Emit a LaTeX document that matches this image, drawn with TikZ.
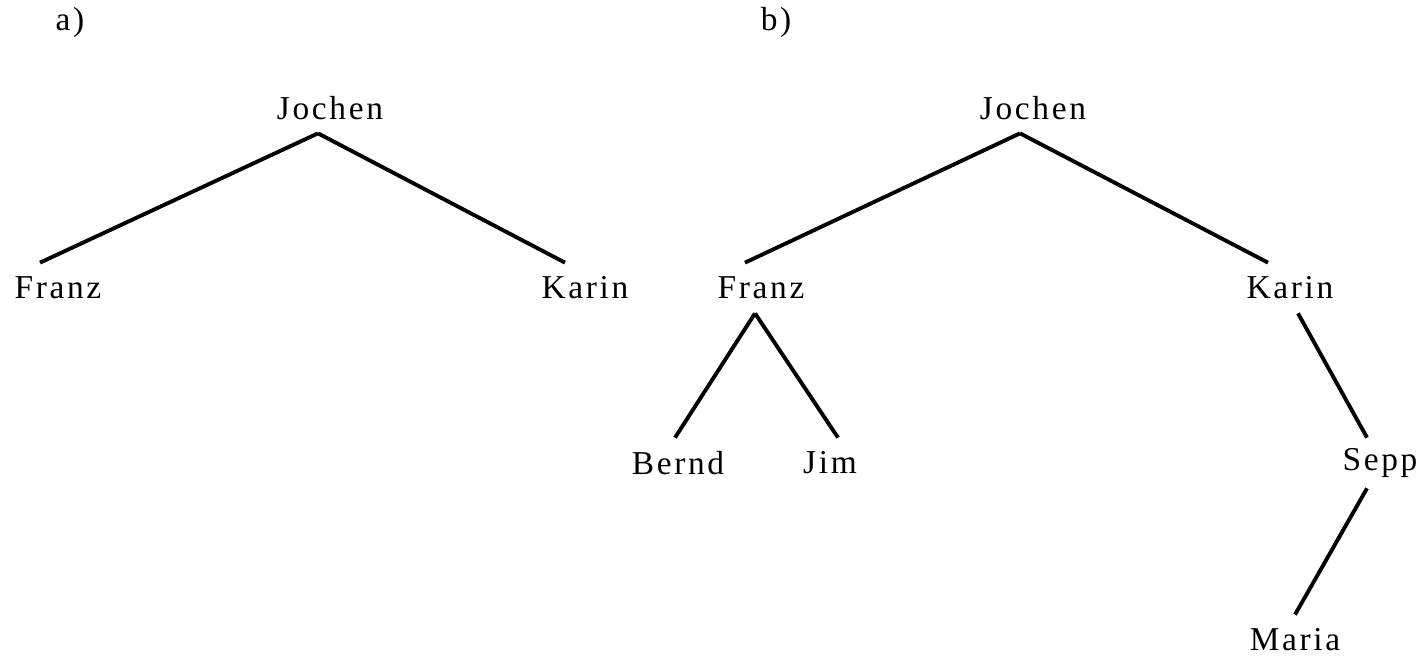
\documentclass[tikz,border=0pt]{standalone}
\usepackage{fontspec}
\setmainfont{Liberation Serif}[LetterSpace=8]
\usepackage{tikz}
\usetikzlibrary{positioning}
\tikzset{person/.style={inner sep=0pt, minimum height=1cm, font=\fontsize{19}{22}\selectfont}}
\tikzset{branch/.style={line width=2.2pt}}

\begin{document}
\begin{tikzpicture}
		\useasboundingbox (0,0) rectangle (28.52,13.22);
		\node[person] (la) at (1.40,12.78) {a)};
		\node[person] (lb) at (15.52,12.78) {b)};
		% tree a
		\node[person] (JA) at (6.60,11.06) {Jochen};
		\node[person] (FA) at (1.16,7.46) {Franz};
		\node[person] (KA) at (11.70,7.46) {Karin};
		% tree b
		\node[person] (JB) at (20.66,11.06) {Jochen};
		\node[person] (FB) at (15.22,7.46) {Franz};
		\node[person] (KB) at (25.80,7.46) {Karin};
		\node[person] (BE) at (13.56,3.96) {Bernd};
		\node[person] (JI) at (16.60,3.96) {Jim};
		\node[person] (SE) at (27.60,3.96) {Sepp};
		\node[person] (MA) at (25.90,0.42) {Maria};
		\draw[branch] ([xshift=-2.4mm]JA.south) -- ([xshift=-3.6mm]FA.north);
		\draw[branch] ([xshift=-2.4mm]JA.south) -- ([xshift=-4mm]KA.north);
		\draw[branch] ([xshift=-2.6mm]JB.south) -- ([xshift=-3.2mm]FB.north);
		\draw[branch] ([xshift=-2.6mm]JB.south) -- ([xshift=-4.4mm]KB.north);
		\draw[branch] ([xshift=-1.2mm]FB.south) -- ([xshift=-0.6mm]BE.north);
		\draw[branch] ([xshift=-1.2mm]FB.south) -- ([xshift=1.6mm]JI.north);
		\draw[branch] ([xshift=1.6mm]KB.south) -- ([xshift=-2.6mm]SE.north);
		\draw[branch] ([xshift=-2.6mm]SE.south) -- (MA.north);
	\end{tikzpicture}
\end{document}
